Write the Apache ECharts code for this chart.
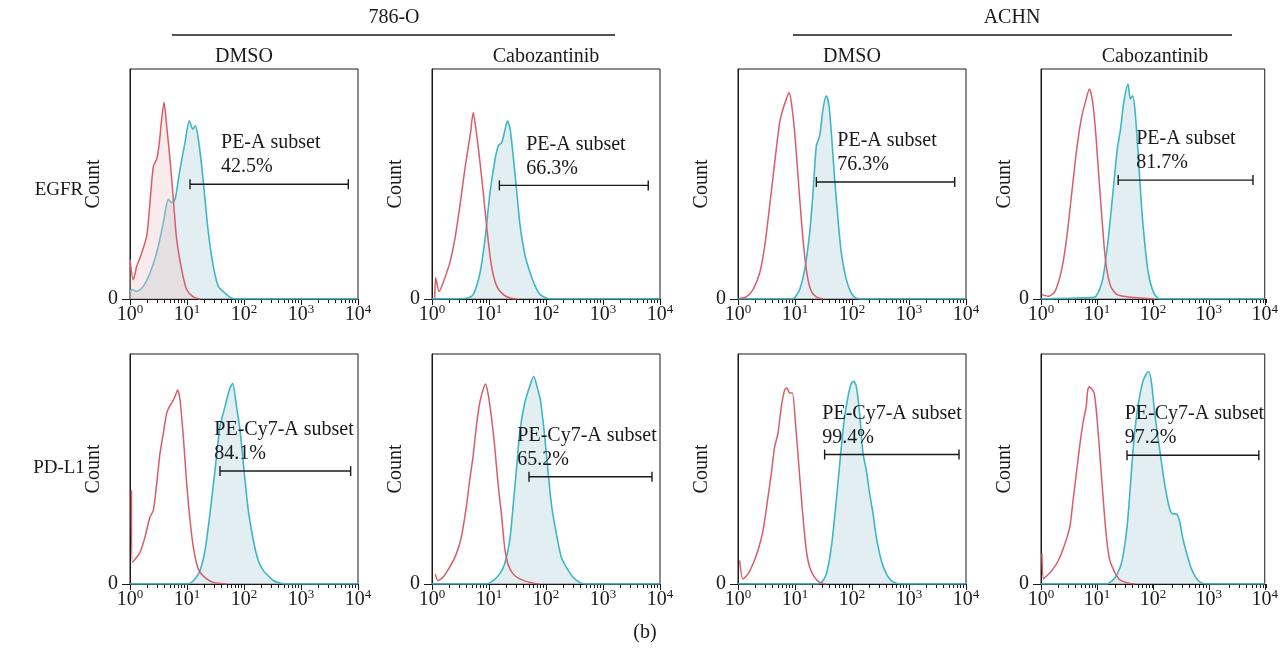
<!DOCTYPE html>
<html>
<head>
<meta charset="utf-8">
<style>
  html, body { margin: 0; padding: 0; background: #ffffff; }
  #chart { width: 1281px; height: 654px; }
</style>
<script src="https://cdn.jsdelivr.net/npm/echarts@6/dist/echarts.min.js"></script>
</head>
<body>
<div id="chart"></div>
<script>
// Flow cytometry histograms: [fluorescence intensity, relative count]
// "Iso" = isotype / unstained control (red), "Stain" = antibody stained (cyan)

// EGFR, 786-O, DMSO
const egfr786DmsoIso = [[1.0,17.2],[1.14,8.4],[1.31,14.2],[1.5,17.9],[1.96,27.3],[2.24,41.9],[2.57,57.8],[2.94,60.8],[3.27,68],[3.59,78.2],[3.95,85.5],[4.4,75.3],[5.03,60.8],[5.76,43.3],[6.59,25.9],[8.06,12.8],[9.87,4.1],[12.9,0.9],[16.9,0]];
const egfr786DmsoStain = [[1,3],[1.07,4.1],[1.31,3.3],[1.71,5.5],[2.24,11.3],[2.94,20.1],[3.84,33.1],[4.71,43.3],[5.38,41.9],[6.16,43.3],[7.54,56.4],[9.22,68],[11,77.5],[12.6,73.8],[14,75.3],[15.8,69.5],[18.1,57.8],[20.7,43.3],[23.7,28.8],[29,14.2],[35.5,5.5],[46.4,2.6],[60.8,0.3],[80,0],[10000,0]];

// EGFR, 786-O, Cabozantinib
const egfr786CaboIso = [[1.12,0.5],[1.16,9.2],[1.33,3.3],[1.56,7],[2.05,15.7],[2.51,25.9],[3.08,40.4],[3.77,56.4],[4.2,64],[4.75,72.4],[5.29,81.1],[5.9,73.8],[6.75,62.2],[7.94,46.2],[9.35,28.8],[11.1,14.2],[13.7,5.5],[17.9,1.9],[23.5,0.4],[30.8,0]];
const egfr786CaboStain = [[1,0],[4.04,0.3],[5.29,1.9],[6.94,11.3],[8.5,25.9],[10.4,46.2],[12.8,60.8],[14.6,66.6],[16.7,68],[19.2,73.8],[21.1,77.5],[23.5,73.8],[26.9,60.8],[30.8,46.2],[35.2,31.7],[43.2,18.6],[52.9,11.3],[64.9,5.5],[79.4,1.9],[104,0.3],[130,0],[10000,0]];

// EGFR, ACHN, DMSO
const egfrAchnDmsoIso = [[1.07,0.3],[1.4,0.9],[1.83,4.1],[2.4,11.3],[2.94,23],[3.59,40.4],[4.4,59.3],[5.38,76.7],[6.16,82.6],[7.04,86.9],[7.85,89.8],[8.62,85.5],[9.87,72.4],[11.3,53.5],[12.9,34.6],[14.8,18.6],[16.9,8.4],[19.4,3.3],[23.7,0.9],[31,0]];
const egfrAchnDmsoStain = [[1,0],[9.22,0],[10.5,1.5],[12.1,4.1],[14.8,12.8],[18.1,28.8],[20.7,46.2],[23.7,66.6],[27.1,70.9],[31,82.6],[35.5,88.4],[39.5,84],[43.4,72.4],[49.7,52],[56.8,34.6],[65,20.1],[79.6,8.4],[97.3,2.6],[119,0.3],[150,0],[10000,0]];

// EGFR, ACHN, Cabozantinib
const egfrAchnCaboIso = [[1.04,1.9],[1.36,1.2],[1.78,3.3],[2.34,12.8],[2.86,25.9],[3.5,44.8],[4.28,63.7],[5.24,78.2],[6.41,86.9],[7.33,91.3],[8.39,85.5],[9.6,70.9],[11,50.6],[12.6,31.7],[14.4,15.7],[17.6,5.5],[23.1,1.9],[36.9,0.9],[72.4,0.3],[108,0]];
const egfrAchnCaboStain = [[1,0],[7.33,0.6],[9.6,1.2],[12.6,8.4],[15.4,23],[18.8,43.3],[23.1,65.1],[26.4,73.8],[30.2,85.5],[36,93.5],[39.5,86.9],[43.4,88.4],[48.3,81.1],[55.3,60.8],[63.2,39],[72.4,23],[82.8,11.3],[101,3.3],[124,0.3],[150,0],[10000,0]];

// PD-L1, 786-O, DMSO
const pdl1786DmsoIso = [[1.06,40.8],[1.1,9.5],[1.31,11.6],[1.5,13.8],[1.83,20.4],[2.24,29.1],[2.57,32],[2.94,43.7],[3.36,56.8],[3.84,65.5],[4.4,74.2],[4.9,77.1],[5.38,78.6],[6.16,81.5],[6.86,84.4],[7.54,80.1],[8.62,64],[9.87,43.7],[11.3,27.7],[12.9,16],[14.8,8.7],[16.9,5.1],[22.1,2.2],[29,0.7],[49.7,0]];
const pdl1786DmsoStain = [[1,0],[9.87,0],[11.3,0.3],[13.8,2.2],[16.9,5.8],[20.7,14.6],[25.3,30.6],[31,49.5],[37.9,68.4],[46.4,77.1],[55.3,84.4],[63.2,87.3],[72.4,78.6],[85.1,67],[100,49.5],[119,32],[146,18.9],[178,10.2],[218,5.8],[267,3.6],[327,1.5],[428,0.4],[561,0],[10000,0]];

// PD-L1, 786-O, Cabozantinib
const pdl1786CaboIso = [[1.14,4.4],[1.27,1.5],[1.56,2.9],[2.04,7.3],[2.67,13.1],[3.27,20.4],[4,33.5],[4.58,45.1],[5.24,55.3],[6,68.4],[6.86,78.6],[7.85,84.4],[8.62,87],[9.6,83],[11,72.8],[12.6,59.7],[14.4,43.7],[16.5,30.6],[18.8,16],[21.5,8.7],[26.4,4.4],[34.5,2.2],[51.7,0.7],[77.4,0]];
const pdl1786CaboStain = [[1,0],[8.98,0],[11.8,1.5],[15.4,4.4],[18.8,8.7],[23.1,18.9],[26.4,33.5],[30.2,49.5],[34.5,65.5],[42.2,78.6],[51.7,85.9],[60.8,90.2],[69.5,85.9],[79.6,80.1],[91,68.4],[104,53.9],[124,34.9],[152,21.8],[186,11.6],[227,7.3],[298,2.9],[390,0.7],[510,0],[10000,0]];

// PD-L1, ACHN, DMSO
const pdl1AchnDmsoIso = [[1.07,10.2],[1.22,2.2],[1.5,4.4],[1.83,8.7],[2.24,14.6],[2.75,23.3],[3.36,37.8],[3.84,48],[4.4,59.7],[5.03,65.5],[5.76,77.1],[6.59,84.4],[7.24,85.2],[8.06,83],[8.98,83],[10.3,68.4],[12.1,46.6],[13.8,29.1],[15.8,14.6],[18.1,7.3],[22.1,2.9],[27.1,0.7],[35.5,0]];
const pdl1AchnDmsoStain = [[1,0],[23.7,0],[29,0.7],[35.5,4.4],[43.4,16],[53.1,36.4],[65,59.7],[74.3,72.8],[85.1,81.5],[97.3,87.3],[107,88.1],[119,85.9],[136,74.2],[156,56.8],[178,49.5],[204,39.3],[234,30.6],[267,20.4],[327,10.2],[400,4.4],[490,1.5],[600,0.3],[785,0],[10000,0]];

// PD-L1, ACHN, Cabozantinib
const pdl1AchnCaboIso = [[1.04,13.1],[1.11,2.2],[1.27,3.6],[1.56,5.8],[2.04,10.2],[2.67,17.4],[3.27,24.7],[3.74,36.3],[4.28,48],[4.9,59.6],[5.61,69.8],[6.41,77],[6.86,84.3],[7.33,85.8],[8.39,84.3],[8.98,82.8],[9.87,74.1],[11,59.6],[12.6,40.7],[14.4,23.3],[16.5,11.6],[20.1,5.8],[24.6,2.2],[32.3,0.7],[48.3,0]];
const pdl1AchnCaboStain = [[1,0],[14.4,0],[18.8,1.5],[23.1,4.4],[28.2,10.2],[34.5,24.7],[39.5,42.2],[45.2,61],[51.7,74.1],[59.2,82.8],[67.7,88.7],[77.4,91.6],[85.1,92.3],[94.8,87.2],[108,74.1],[133,58.1],[162,43.6],[199,32.7],[227,30.5],[260,30.5],[298,27.6],[340,20.3],[390,14.5],[477,7.3],[583,2.9],[714,0.7],[935,0],[10000,0]];

// Gates (positive subset), panel order: EGFR row then PD-L1 row
const gateFrom = [11.3, 15.2, 23.7, 24, 37.9, 50.3, 33.1, 34.5];
const gateTo = [6760, 6220, 6340, 6160, 7430, 7240, 7540, 7850];
const gateLevel = [49.9, 49.4, 50.9, 51.7, 49.1, 46.6, 56.3, 56];
const gateLabelAt = [39.5, 45, 55.3, 50.3, 30.2, 31.4, 30.2, 31.4];
const gateNames = ['PE-A subset', 'PE-A subset', 'PE-A subset', 'PE-A subset',
                   'PE-Cy7-A subset', 'PE-Cy7-A subset', 'PE-Cy7-A subset', 'PE-Cy7-A subset'];
const gatePercents = ['42.5%', '66.3%', '76.3%', '81.7%', '84.1%', '65.2%', '99.4%', '97.2%'];

// Axis ticks
const decadeTicks = [1, 10, 100, 1000, 9999.9];
const minorTicks = [2,3,4,5,6,7,8,9,20,30,40,50,60,70,80,90,200,300,400,500,600,700,800,900,2000,3000,4000,5000,6000,7000,8000,9000];

const cellLines = ['786-O', 'ACHN'];
const treatments = ['DMSO', 'Cabozantinib', 'DMSO', 'Cabozantinib'];
const markers = ['EGFR', 'PD-L1'];

const isoSets = [egfr786DmsoIso, egfr786CaboIso, egfrAchnDmsoIso, egfrAchnCaboIso,
                 pdl1786DmsoIso, pdl1786CaboIso, pdl1AchnDmsoIso, pdl1AchnCaboIso];
const stainSets = [egfr786DmsoStain, egfr786CaboStain, egfrAchnDmsoStain, egfrAchnCaboStain,
                   pdl1786DmsoStain, pdl1786CaboStain, pdl1AchnDmsoStain, pdl1AchnCaboStain];

// ---- layout ----
const FONT = '"Liberation Serif", "DejaVu Serif", serif';
const INK = '#1a1a1a';
const colLeft = [130, 432, 738, 1041];
const rowTop = [69, 354];
const PW = 228, PH = 230;

const grids = [], xAxes = [], yAxes = [], series = [];

function gateRenderer(name, pct) {
  return function (params, api) {
    const a = api.coord([api.value(0), api.value(1)]);
    const b = api.coord([api.value(2), api.value(1)]);
    const t = api.coord([api.value(3), api.value(1)]);
    const stroke = { stroke: INK, lineWidth: 1.4 };
    const txt = function (s, dy) {
      return { type: 'text', style: { text: s, x: t[0], y: a[1] + dy, fill: INK,
        font: '20px ' + FONT, align: 'left', verticalAlign: 'middle',
        textAlign: 'left', textVerticalAlign: 'middle' } };
    };
    return { type: 'group', children: [
      { type: 'line', shape: { x1: a[0], y1: a[1], x2: b[0], y2: b[1] }, style: stroke },
      { type: 'line', shape: { x1: a[0], y1: a[1] - 5, x2: a[0], y2: a[1] + 5 }, style: stroke },
      { type: 'line', shape: { x1: b[0], y1: b[1] - 5, x2: b[0], y2: b[1] + 5 }, style: stroke },
      txt(name, -41),
      txt(pct, -17)
    ] };
  };
}

for (let i = 0; i < 8; i++) {
  const r = Math.floor(i / 4), c = i % 4;
  const rect = { left: colLeft[c], top: rowTop[r], width: PW, height: PH };
  grids.push(Object.assign({ show: true, borderColor: INK, borderWidth: 1, backgroundColor: 'transparent' }, rect));
  xAxes.push({
    gridIndex: i, type: 'log', logBase: 10, min: 1, max: 10000,
    axisLine: { onZero: false, lineStyle: { color: INK, width: 1 } },
    axisTick: { show: true, customValues: decadeTicks, length: 6, lineStyle: { color: INK } },
    axisLabel: {
      customValues: decadeTicks, margin: 4, color: INK, fontFamily: FONT, fontSize: 20,
      formatter: function (v) { return '{b|10}{s|' + Math.round(Math.log10(v)) + '}'; },
      rich: {
        b: { fontFamily: FONT, fontSize: 20, lineHeight: 24, color: INK },
        s: { fontFamily: FONT, fontSize: 13, lineHeight: 13, color: INK, verticalAlign: 'top' }
      }
    },
    splitLine: { show: false }
  });
  yAxes.push({
    gridIndex: i, type: 'value', min: 0, max: 100,
    name: 'Count', nameLocation: 'middle', nameGap: 26, nameRotate: 90,
    nameTextStyle: { fontFamily: FONT, fontSize: 20, color: INK },
    axisLine: { show: true, lineStyle: { color: INK } },
    axisTick: { show: true, customValues: [0], length: 8, lineStyle: { color: INK } },
    axisLabel: { customValues: [0], margin: 12, color: INK, fontFamily: FONT, fontSize: 20 },
    splitLine: { show: false }
  });

  series.push({
    type: 'line', xAxisIndex: i, yAxisIndex: i, data: stainSets[i],
    showSymbol: false, symbol: 'none', smooth: 0.25, z: 2,
    lineStyle: { color: '#3db7c7', width: 1.6 },
    areaStyle: { color: 'rgba(196,220,226,0.7)' }
  });
  series.push({
    type: 'line', xAxisIndex: i, yAxisIndex: i, data: isoSets[i],
    showSymbol: false, symbol: 'none', smooth: 0.25, z: 3,
    lineStyle: { color: '#d85d68', width: 1.5 },
    areaStyle: i === 0 ? { color: 'rgba(238,196,198,0.5)' } : undefined
  });
  series.push({
    type: 'custom', xAxisIndex: i, yAxisIndex: i, z: 5, silent: true,
    encode: { x: [0, 2, 3], y: 1 },
    data: [[gateFrom[i], gateLevel[i], gateTo[i], gateLabelAt[i]]],
    renderItem: gateRenderer(gateNames[i], gatePercents[i])
  });
}

// overlay cartesians carrying the minor log ticks
for (let i = 0; i < 8; i++) {
  const r = Math.floor(i / 4), c = i % 4;
  grids.push({ left: colLeft[c], top: rowTop[r], width: PW, height: PH, show: false });
  xAxes.push({
    gridIndex: 8 + i, type: 'log', logBase: 10, min: 1, max: 10000,
    axisLine: { show: false, onZero: false },
    axisTick: { show: true, customValues: minorTicks, length: 4, lineStyle: { color: INK } },
    axisLabel: { show: false }, splitLine: { show: false }
  });
  yAxes.push({ gridIndex: 8 + i, type: 'value', min: 0, max: 100, show: false });
}

// headers, row labels, caption
const textStyle = function (s, x, y, size) {
  return { type: 'text', x: x, y: y, style: { text: s, fill: INK, font: size + 'px ' + FONT,
    align: 'center', verticalAlign: 'middle', textAlign: 'center', textVerticalAlign: 'middle' } };
};
const graphics = [
  textStyle(cellLines[0], 394, 18, 20),
  textStyle(cellLines[1], 1012, 18, 20),
  { type: 'line', shape: { x1: 172, y1: 35, x2: 615, y2: 35 }, style: { stroke: INK, lineWidth: 1.3 } },
  { type: 'line', shape: { x1: 793, y1: 35, x2: 1232, y2: 35 }, style: { stroke: INK, lineWidth: 1.3 } },
  textStyle(markers[0], 59, 190, 19),
  textStyle(markers[1], 59, 468, 19),
  textStyle('(b)', 645, 633, 20)
];
for (let c = 0; c < 4; c++) {
  graphics.push(textStyle(treatments[c], colLeft[c] + PW / 2, 57, 20));
}

const chart = echarts.init(document.getElementById('chart'), null, { renderer: 'canvas' });
chart.setOption({
  animation: false,
  backgroundColor: '#ffffff',
  grid: grids,
  xAxis: xAxes,
  yAxis: yAxes,
  series: series,
  graphic: graphics
});
</script>
</body>
</html>
